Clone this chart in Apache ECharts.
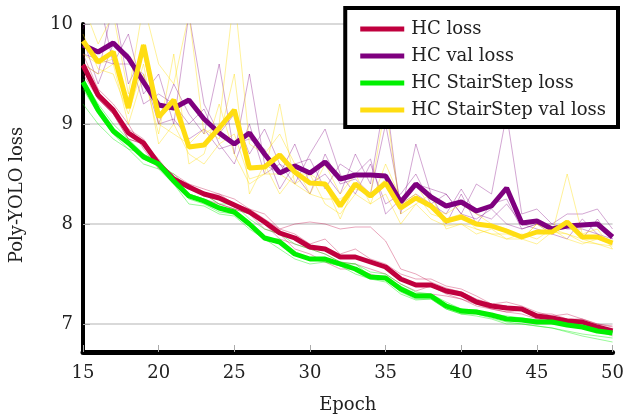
<!DOCTYPE html>
<html>
<head>
<meta charset="utf-8">
<script src="https://cdn.jsdelivr.net/npm/echarts@6/dist/echarts.min.js"></script>
<style>
  html, body { margin: 0; padding: 0; background: #fff; }
  #lossChart { width: 627px; height: 419px; }
</style>
</head>
<body>
<div id="lossChart"></div>
<script>
// 横轴：epoch
var epochs = [15,16,17,18,19,20,21,22,23,24,25,26,27,28,29,30,31,32,33,34,35,36,37,38,39,40,41,42,43,44,45,46,47,48,49,50];
var yTicks = [7, 8, 9, 10];

// 粗线（平均值）
var hcLoss = [9.59,9.29,9.14,8.91,8.81,8.60,8.45,8.37,8.30,8.26,8.19,8.12,8.02,7.91,7.86,7.77,7.75,7.67,7.67,7.62,7.57,7.45,7.39,7.39,7.33,7.30,7.22,7.18,7.16,7.15,7.08,7.06,7.03,7.02,6.97,6.93];
var hcValLoss = [9.79,9.72,9.81,9.66,9.42,9.19,9.16,9.24,9.05,8.91,8.80,8.91,8.70,8.51,8.58,8.51,8.62,8.45,8.49,8.49,8.48,8.22,8.40,8.27,8.18,8.22,8.13,8.18,8.36,8.01,8.03,7.95,7.98,7.99,8.00,7.87];
var stairLoss = [9.42,9.14,8.93,8.81,8.67,8.60,8.43,8.28,8.23,8.16,8.12,8.00,7.86,7.82,7.70,7.65,7.65,7.60,7.55,7.47,7.46,7.35,7.28,7.28,7.18,7.13,7.12,7.09,7.05,7.04,7.02,7.02,6.99,6.97,6.93,6.91];
var stairValLoss = [9.83,9.62,9.72,9.16,9.79,9.07,9.24,8.77,8.79,8.96,9.14,8.56,8.57,8.69,8.52,8.41,8.40,8.18,8.40,8.28,8.41,8.16,8.26,8.18,8.03,8.07,8.00,7.98,7.93,7.87,7.92,7.92,8.02,7.87,7.87,7.81];

// 细线（单次运行）
var hcLossRuns = [
	[9.70,9.35,9.20,9.00,8.75,8.55,8.50,8.40,8.35,8.30,8.25,8.15,8.10,7.95,7.90,7.80,7.85,7.70,7.75,7.65,7.60,7.50,7.45,7.45,7.38,7.35,7.28,7.20,7.22,7.18,7.12,7.08,7.10,7.05,7.00,6.98],
	[9.55,9.25,9.10,8.85,8.80,8.65,8.45,8.40,8.30,8.30,8.20,8.15,8.05,7.95,8.00,8.02,8.00,7.95,7.97,7.97,7.83,7.55,7.50,7.42,7.36,7.32,7.25,7.20,7.18,7.16,7.10,7.10,7.05,7.05,7.00,6.97],
	[9.50,9.25,9.10,8.85,8.80,8.60,8.40,8.30,8.25,8.20,8.15,8.10,8.00,7.85,7.80,7.75,7.70,7.62,7.60,7.55,7.50,7.40,7.33,7.38,7.30,7.25,7.20,7.15,7.12,7.14,7.05,7.03,7.00,7.00,6.95,6.92],
	[9.60,9.30,9.15,8.95,8.85,8.60,8.45,8.35,8.30,8.20,8.15,8.10,7.95,7.90,7.75,7.70,7.62,7.55,7.55,7.50,7.45,7.35,7.30,7.30,7.28,7.25,7.18,7.15,7.12,7.10,7.05,7.02,6.98,6.98,6.93,6.88]
];
var hcValRuns = [
	[9.95,10.3,9.60,9.90,9.30,9.50,9.00,10.1,9.20,8.90,9.10,8.70,8.95,8.60,8.40,8.70,8.95,8.50,8.30,8.60,8.20,8.30,8.50,8.20,8.30,8.10,8.40,8.30,9.10,8.10,8.15,8.00,8.10,8.10,8.15,7.95],
	[9.60,9.50,10.2,9.40,9.70,9.00,9.40,9.10,8.90,9.60,8.70,9.50,8.60,8.50,8.80,8.40,8.50,8.30,8.70,8.40,9.30,8.10,8.80,8.30,8.00,8.30,8.00,8.20,8.25,7.95,8.00,7.90,7.85,8.05,7.90,7.80],
	[9.85,9.40,9.80,9.70,9.20,9.30,9.20,9.00,9.15,8.80,8.60,9.00,8.50,8.60,8.50,8.30,8.70,8.40,8.45,8.30,9.00,8.20,8.30,8.20,8.10,8.35,8.10,8.05,8.20,8.00,7.95,7.90,8.00,7.85,8.05,7.85],
	[9.70,9.65,9.60,9.60,9.50,9.00,9.05,8.85,8.95,8.75,8.80,8.85,8.75,8.35,8.60,8.65,8.35,8.60,8.50,8.65,8.10,8.25,8.40,8.35,8.30,8.10,8.05,8.15,8.00,7.95,8.00,8.00,7.95,7.95,7.90,7.85]
];
var stairLossRuns = [
	[9.45,9.20,9.00,8.85,8.70,8.60,8.50,8.35,8.30,8.20,8.20,8.05,7.95,7.90,7.80,7.75,7.70,7.62,7.60,7.52,7.50,7.40,7.32,7.30,7.22,7.15,7.14,7.10,7.08,7.06,7.04,7.00,7.00,6.98,6.95,6.93],
	[9.35,9.10,8.90,8.80,8.65,8.58,8.40,8.20,8.18,8.10,8.08,7.95,7.85,7.75,7.65,7.60,7.62,7.58,7.50,7.45,7.42,7.30,7.24,7.25,7.15,7.10,7.08,7.05,7.00,7.00,6.98,6.96,6.93,6.90,6.88,6.86],
	[9.40,9.15,8.90,8.75,8.70,8.62,8.45,8.30,8.25,8.15,8.10,8.00,7.85,7.85,7.72,7.65,7.65,7.60,7.60,7.48,7.46,7.38,7.30,7.30,7.20,7.15,7.12,7.10,7.06,7.05,7.02,7.04,7.00,6.98,6.95,6.92],
	[9.20,9.00,8.85,8.75,8.60,8.55,8.40,8.25,8.20,8.12,8.10,7.98,7.85,7.80,7.70,7.65,7.62,7.58,7.55,7.48,7.45,7.32,7.25,7.25,7.15,7.10,7.10,7.06,7.02,7.00,6.98,6.96,6.92,6.88,6.85,6.82]
];
var stairValRuns = [
	[10.2,9.80,10.1,9.30,10.2,9.60,9.40,10.1,8.90,9.00,10.3,8.80,8.70,8.90,8.60,8.30,8.60,8.30,8.50,8.20,8.60,8.25,8.40,8.15,8.10,8.20,8.10,8.00,7.95,7.85,8.00,7.90,8.50,7.90,7.95,7.75],
	[9.60,9.50,9.60,9.00,9.50,8.90,9.70,8.60,8.70,9.20,8.70,8.40,8.50,9.20,8.40,8.50,8.20,8.10,8.30,8.20,8.30,8.00,8.20,8.30,7.95,8.00,7.90,7.95,7.85,7.90,7.85,7.95,7.85,7.80,7.85,7.80],
	[9.90,9.55,9.50,9.10,9.60,8.80,9.00,8.70,8.60,8.80,8.90,8.45,8.50,8.50,8.40,8.30,8.25,8.25,8.35,8.30,9.20,8.10,8.20,8.05,7.98,8.00,7.95,7.90,7.90,7.85,7.80,7.92,7.90,7.82,7.80,7.78],
	[9.70,9.60,9.65,9.25,9.80,9.00,8.90,8.80,8.95,8.85,9.50,8.30,8.60,8.30,8.50,8.50,8.40,8.05,8.40,8.30,8.45,8.20,8.30,8.10,8.05,8.10,7.95,7.90,7.85,7.85,8.00,7.95,7.90,7.85,7.80,7.75]
];

var lossChart = echarts.init(document.getElementById('lossChart'));
var serifFont = '"DejaVu Serif", "Liberation Serif", serif';

// 把 epoch 和值拼成 [x, y]
function toPairs(values) {
	var out = [];
	for (var i = 0; i < epochs.length; i++) {
		out.push([epochs[i], values[i]]);
	}
	return out;
}

function thinSeries(runs, color) {
	var list = [];
	for (var i = 0; i < runs.length; i++) {
		list.push({
			type : 'line',
			data : toPairs(runs[i]),
			showSymbol : false,
			silent : true,
			z : 1,
			lineStyle : { width : 1, color : color }
		});
	}
	return list;
}

function thickSeries(name, values, color) {
	return {
		name : name,
		type : 'line',
		data : toPairs(values),
		color : color,
		showSymbol : false,
		z : 3,
		lineStyle : { width : 5, color : color }
	};
}

var series = [];
series = series.concat(thinSeries(hcLossRuns, 'rgba(192,0,64,0.35)'));
series = series.concat(thinSeries(hcValRuns, 'rgba(128,0,128,0.35)'));
series = series.concat(thinSeries(stairLossRuns, 'rgba(0,240,0,0.4)'));
series = series.concat(thinSeries(stairValRuns, 'rgba(255,220,0,0.4)'));
series.push(thickSeries('HC loss', hcLoss, '#c0003e'));
series.push(thickSeries('HC val loss', hcValLoss, '#7f007f'));
series.push(thickSeries('HC StairStep loss', stairLoss, '#00f000'));
series.push(thickSeries('HC StairStep val loss', stairValLoss, '#ffdd12'));

var lossChartOption = {
	animation : false,
	backgroundColor : '#fff',
	grid : {
		left : 83,
		right : 11,
		top : 24,
		bottom : 66
	},
	legend : {
		orient : 'vertical',
		top : 8,
		right : 9,
		data : ['HC loss', 'HC val loss', 'HC StairStep loss', 'HC StairStep val loss'],
		icon : 'rect',
		itemWidth : 44,
		itemHeight : 5,
		itemGap : 7,
		padding : [11, 12, 7, 15],
		backgroundColor : '#fff',
		borderColor : '#000',
		borderWidth : 4,
		borderRadius : 0,
		selectedMode : false,
		textStyle : {
			fontFamily : serifFont,
			fontSize : 18,
			color : '#222',
			lineHeight : 20,
			padding : [0, 0, 0, 2]
		}
	},
	xAxis : {
		type : 'value',
		min : 15,
		max : 50,
		interval : 5,
		name : 'Epoch',
		nameLocation : 'middle',
		nameGap : 44,
		nameTextStyle : { fontFamily : serifFont, fontSize : 18, color : '#222' },
		axisLine : { onZero : false, lineStyle : { color : '#000', width : 5 } },
		axisTick : { inside : true, length : 7, lineStyle : { color : '#aaa', width : 1 } },
		axisLabel : { fontFamily : serifFont, fontSize : 18, color : '#222', margin : 12 },
		splitLine : { show : false }
	},
	yAxis : {
		type : 'value',
		min : 6.72,
		max : 10,
		name : 'Poly-YOLO loss',
		nameLocation : 'middle',
		nameGap : 57,
		nameTextStyle : { fontFamily : serifFont, fontSize : 18, color : '#222', padding : [0, 14, 0, 0] },
		axisLine : { show : true, lineStyle : { color : '#000', width : 4 } },
		axisTick : { show : true, inside : true, length : 7, customValues : yTicks, lineStyle : { color : '#aaa', width : 1 } },
		axisLabel : { fontFamily : serifFont, fontSize : 18, color : '#222', margin : 10, customValues : yTicks },
		splitLine : { show : true, customValues : yTicks, lineStyle : { color : '#cccccc', width : 1.5 } }
	},
	series : series
};

lossChart.setOption(lossChartOption);
</script>
</body>
</html>
